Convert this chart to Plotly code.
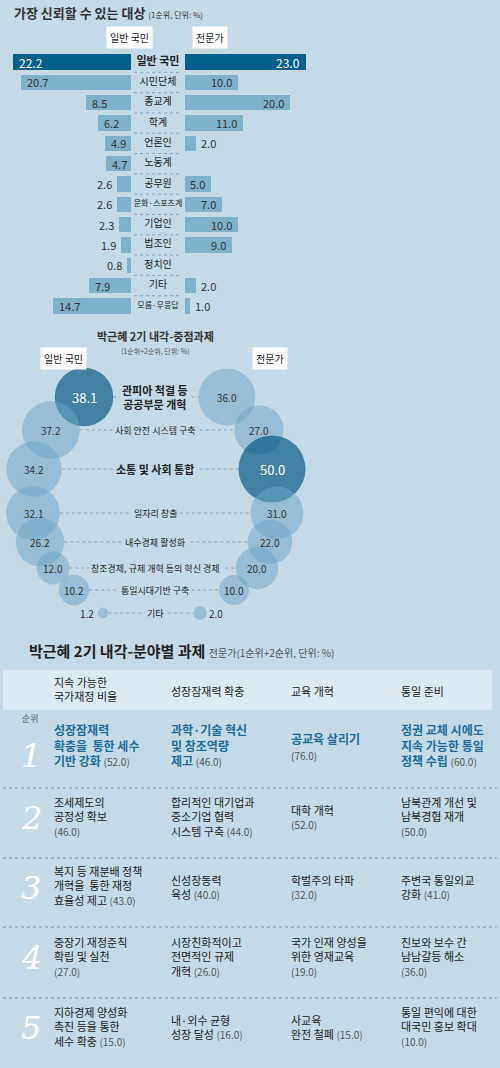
import plotly.graph_objects as go
import math

W, H = 500, 1068
FONT = "Noto Sans CJK KR"
BG = "#c4dae6"
LIGHT = "#80b1cc"
DARK = "#07608a"
TXT = "#333333"
BLUE = "#1d6d9b"

# ---- top bar chart data
trust_cats = ["일반 국민", "시민단체", "종교계", "학계", "언론인", "노동계", "공무원",
              "문화·스포츠계", "기업인", "법조인", "정치인", "기타", "모름·무응답"]
trust_public = [22.2, 20.7, 8.5, 6.2, 4.9, 4.7, 2.6, 2.6, 2.3, 1.9, 0.8, 7.9, 14.7]
trust_expert = [23.0, 10.0, 20.0, 11.0, 2.0, None, 5.0, 7.0, 10.0, 9.0, None, 2.0, 1.0]

# ---- bubble data
task_cats = ["관피아 척결 등<br>공공부문 개혁", "사회 안전 시스템 구축", "소통 및 사회 통합", "일자리 창출",
             "내수경제 활성화", "창조경제, 규제 개혁 등의 혁신 경제", "통일시대기반 구축", "기타"]
task_public = [38.1, 37.2, 34.2, 32.1, 26.2, 12.0, 10.2, 1.2]
task_expert = [36.0, 27.0, 50.0, 31.0, 22.0, 20.0, 10.0, 2.0]

# ---- table data
col_heads = ["지속 가능한<br>국가재정 비율", "성장잠재력 확충", "교육 개혁", "통일 준비"]
table_text = [
    ["성장잠재력<br>확충을  통한 세수<br>기반 강화", "과학·기술 혁신<br>및 창조역량<br>제고", "공교육 살리기", "정권 교체 시에도<br>지속 가능한 통일<br>정책 수립"],
    ["조세제도의<br>공정성 확보", "합리적인 대기업과<br>중소기업 협력<br>시스템 구축", "대학 개혁", "남북관계 개선 및<br>남북경협 재개"],
    ["복지 등 재분배 정책<br>개혁을  통한 재정<br>효율성 제고", "신성장동력<br>육성", "학벌주의 타파", "주변국 통일외교<br>강화"],
    ["중장기 재정준칙<br>확립 및 실천", "시장친화적이고<br>전면적인 규제<br>개혁", "국가 인재 양성을<br>위한 영재교육", "진보와 보수 간<br>남남갈등 해소"],
    ["지하경제 양성화<br>촉진 등을 통한<br>세수 확충", "내·외수 균형<br>성장 달성", "사교육<br>완전 철폐", "통일 편익에 대한<br>대국민 홍보 확대"],
]
table_vals = [
    [52.0, 46.0, 76.0, 60.0],
    [46.0, 44.0, 52.0, 50.0],
    [43.0, 40.0, 32.0, 41.0],
    [27.0, 26.0, 19.0, 36.0],
    [15.0, 16.0, 15.0, 10.0],
]
val_newline = [
    [False, False, True, False],
    [True, False, True, True],
    [False, False, True, False],
    [True, False, True, True],
    [False, False, False, True],
]
ranks = ["1", "2", "3", "4", "5"]

def px(x): return x / W
def py(y): return 1 - y / H

fig = go.Figure()
ann = []
shapes = []

# ================= top bars
n = len(trust_cats)
idx = list(range(n))
pub_colors = [DARK] + [LIGHT] * (n - 1)
fig.add_trace(go.Bar(x=trust_public, y=idx, orientation="h", marker=dict(color=pub_colors, line_width=0),
                     width=0.76, xaxis="x", yaxis="y", hoverinfo="skip"))
fig.add_trace(go.Bar(x=[v if v is not None else 0 for v in trust_expert], y=idx, orientation="h",
                     marker=dict(color=pub_colors, line_width=0), width=0.76, xaxis="x2", yaxis="y2", hoverinfo="skip"))
for i in idx:
    v = trust_public[i]
    col = "white" if i == 0 else TXT
    fs = 12 if i == 0 else 11
    if v > 4:
        ann.append(dict(x=v, y=i, xref="x", yref="y", text=f"{v:.1f}", xanchor="left", xshift=4,
                        showarrow=False, font=dict(size=fs, color=col, family=FONT)))
    else:
        ann.append(dict(x=v, y=i, xref="x", yref="y", text=f"{v:.1f}", xanchor="right", xshift=-3,
                        showarrow=False, font=dict(size=fs, color=TXT, family=FONT)))
    e = trust_expert[i]
    if e is not None:
        if e >= 5:
            ann.append(dict(x=e, y=i, xref="x2", yref="y", text=f"{e:.1f}", xanchor="right", xshift=-4,
                            showarrow=False, font=dict(size=fs, color=col, family=FONT)))
        else:
            ann.append(dict(x=e, y=i, xref="x2", yref="y", text=f"{e:.1f}", xanchor="left", xshift=3,
                            showarrow=False, font=dict(size=fs, color=TXT, family=FONT)))
    if i < n - 1:
        shapes.append(dict(type="line", xref="paper", yref="y", x0=px(134), x1=px(182), y0=i + 0.5, y1=i + 0.5,
                           line=dict(color="#8aa5b5", width=1, dash="dot")))

fig.add_trace(go.Scatter(x=[158] * n, y=idx, mode="text", xaxis="x4", yaxis="y", hoverinfo="skip",
                         text=[f"<b>{c}</b>" if i == 0 else c for i, c in enumerate(trust_cats)],
                         textposition="middle center",
                         textfont=dict(size=[11 if i == 0 else (8 if len(c) > 5 else 10) for i, c in enumerate(trust_cats)],
                                       color="#222", family=FONT)))

ann.append(dict(x=px(12), y=py(13), xref="paper", yref="paper", xanchor="left", yanchor="middle", showarrow=False,
                text="<b>가장 신뢰할 수 있는 대상</b> <span style='font-size:8px'>(1순위, 단위: %)</span>",
                font=dict(size=13, color="#333", family=FONT)))

def bubble_label(x, ybottom, text):
    ann.append(dict(x=px(x), y=py(ybottom), xref="paper", yref="paper", yanchor="bottom", text=text,
                    showarrow=False, bgcolor="white", borderpad=3, font=dict(size=10, color="#222", family=FONT)))

bubble_label(106, 49, "일반 국민")
bubble_label(210, 49, "전문가")

# ================= bubbles (pixel-unit axis)
row_y = [397, 430, 469, 513, 542, 568, 590, 613]
left_x = [84, 51, 34, 33, 40, 53, 74, 103]
right_x = [227, 259, 272, 277, 270, 257, 234, 200]
DMAX = 67
vmax = max(task_public + task_expert)
def diam(v): return DMAX * math.sqrt(v / vmax)

pub_max = task_public.index(max(task_public))
exp_max = task_expert.index(max(task_expert))
for i in range(len(task_cats)):
    x0 = left_x[i] + diam(task_public[i]) / 2
    x1 = right_x[i] - diam(task_expert[i]) / 2
    shapes.append(dict(type="line", xref="x3", yref="y3", x0=x0, x1=x1, y0=row_y[i], y1=row_y[i],
                       line=dict(color="#8aa5b5", width=1, dash="dot"), layer="below"))

for vals, xs, mi in [(task_public, left_x, pub_max), (task_expert, right_x, exp_max)]:
    cols = ["rgba(0,85,128,0.95)" if k == mi else "rgba(110,165,200,0.75)" for k in range(len(vals))]
    fig.add_trace(go.Scatter(x=xs, y=row_y, mode="markers", xaxis="x3", yaxis="y3", hoverinfo="skip",
                             marker=dict(size=[diam(v) for v in vals], sizemode="diameter", color=cols,
                                         line_width=0)))
    for k, v in enumerate(vals):
        if k == len(vals) - 1:
            left = xs is left_x
            ann.append(dict(x=xs[k], y=row_y[k], xref="x3", yref="y3", text=f"{v:.1f}", showarrow=False,
                            xanchor="right" if left else "left", xshift=-7 if left else 7,
                            font=dict(size=10, color=TXT, family=FONT)))
        else:
            ann.append(dict(x=xs[k], y=row_y[k], xref="x3", yref="y3", text=f"{v:.1f}", showarrow=False,
                            font=dict(size=13 if k == mi else 10, color="white" if k == mi else TXT, family=FONT)))

for i, c in enumerate(task_cats):
    bold = i in (0, 2)
    ann.append(dict(x=155, y=row_y[i], xref="x3", yref="y3", text=f"<b>{c}</b>" if bold else c,
                    showarrow=False, bgcolor=BG, borderpad=2,
                    font=dict(size=11 if bold else 9, color="#222", family=FONT)))

ann.append(dict(x=155, y=336, xref="x3", yref="y3", text="<b>박근혜 2기 내각-중점과제</b>", showarrow=False,
                font=dict(size=11, color="#333", family=FONT)))
ann.append(dict(x=155, y=351, xref="x3", yref="y3", text="(1순위+2순위, 단위: %)", showarrow=False,
                font=dict(size=7, color="#555", family=FONT)))
bubble_label(40, 370, "일반 국민")
bubble_label(270, 370, "전문가")

# ================= table
ann.append(dict(x=px(27), y=py(650), xref="paper", yref="paper", xanchor="left", showarrow=False,
                text="<b>박근혜 2기 내각-분야별 과제</b> <span style='font-size:10px;color:#555'>전문가(1순위+2순위, 단위: %)</span>",
                font=dict(size=15, color="#222", family=FONT)))
shapes.append(dict(type="rect", xref="paper", yref="paper", x0=px(3), x1=px(492), y0=py(710), y1=py(670),
                   fillcolor="#dde9f1", line_width=0, layer="below"))
col_x = [53, 170, 290, 400]
for j, h in enumerate(col_heads):
    nl = h.count("<br>") + 1
    ann.append(dict(x=px(col_x[j]), y=py(690 - nl * 8.5), xref="paper", yref="paper", xanchor="left",
                    yanchor="top", align="left", borderpad=0,
                    text=h, showarrow=False, font=dict(size=11, color="#222", family=FONT)))
row_c = [748, 818, 888, 958, 1028]
row_b = [788, 858, 927, 998]
for yb in row_b:
    shapes.append(dict(type="line", xref="paper", yref="paper", x0=px(3), x1=px(497), y0=py(yb), y1=py(yb),
                       line=dict(color="#7f98a8", width=1, dash="dot")))
ann.append(dict(x=px(20), y=py(727), xref="paper", yref="paper", text="순위", showarrow=False,
                font=dict(size=9, color="#555", family=FONT)))
for r in range(5):
    ann.append(dict(x=px(20), y=py(row_c[r] - 20 + (8 if r == 0 else 0)), xref="paper", yref="paper",
                    yanchor="top", borderpad=0,
                    text=f"<i>{ranks[r]}</i>", showarrow=False,
                    font=dict(size=32, color="white", family="DejaVu Serif")))
    for j in range(4):
        v = table_vals[r][j]
        if r == 0:
            vs = f"<span style='font-size:10px;color:#555;font-weight:normal'>({v:.1f})</span>"
            body = f"<b>{table_text[r][j]}</b>"
            fs, col, lh = 12, BLUE, 19
        else:
            vs = f"<span style='font-size:10px;color:#555'>({v:.1f})</span>"
            body = table_text[r][j]
            fs, col, lh = 11, "#222", 17
        nl = table_text[r][j].count("<br>") + 1 + (1 if val_newline[r][j] else 0)
        txt = body + ("<br>" if val_newline[r][j] else " ") + vs
        ann.append(dict(x=px(col_x[j]), y=py(row_c[r] - nl * lh / 2), xref="paper", yref="paper",
                        xanchor="left", yanchor="top", align="left", borderpad=0,
                        text=txt, showarrow=False, font=dict(size=fs, color=col, family=FONT)))

fig.update_layout(
    width=W, height=H, margin=dict(l=0, r=0, t=0, b=0), paper_bgcolor=BG, plot_bgcolor="rgba(0,0,0,0)",
    showlegend=False, bargap=0, annotations=ann, shapes=shapes, font=dict(family=FONT),
    xaxis=dict(domain=[0, px(131)], range=[24.7, 0], visible=False, fixedrange=True, anchor="y"),
    xaxis2=dict(domain=[px(185), 1], range=[0, 59.9], visible=False, anchor="y2", fixedrange=True),
    yaxis=dict(domain=[py(316), py(52)], range=[n - 0.5, -0.5], visible=False, fixedrange=True, anchor="x"),
    yaxis2=dict(domain=[py(316), py(52)], range=[n - 0.5, -0.5], visible=False, fixedrange=True, anchor="x2", matches="y"),
    xaxis3=dict(domain=[0, 1], range=[0, W], visible=False, anchor="y3", fixedrange=True),
    yaxis3=dict(domain=[0, 1], range=[H, 0], visible=False, anchor="x3", fixedrange=True),
    xaxis4=dict(domain=[0, 1], range=[0, W], visible=False, anchor="y", fixedrange=True),
)
fig.write_html("out.html", config={"displayModeBar": False},
               post_script="document.body.style.margin='0';document.body.style.overflow='hidden';")
